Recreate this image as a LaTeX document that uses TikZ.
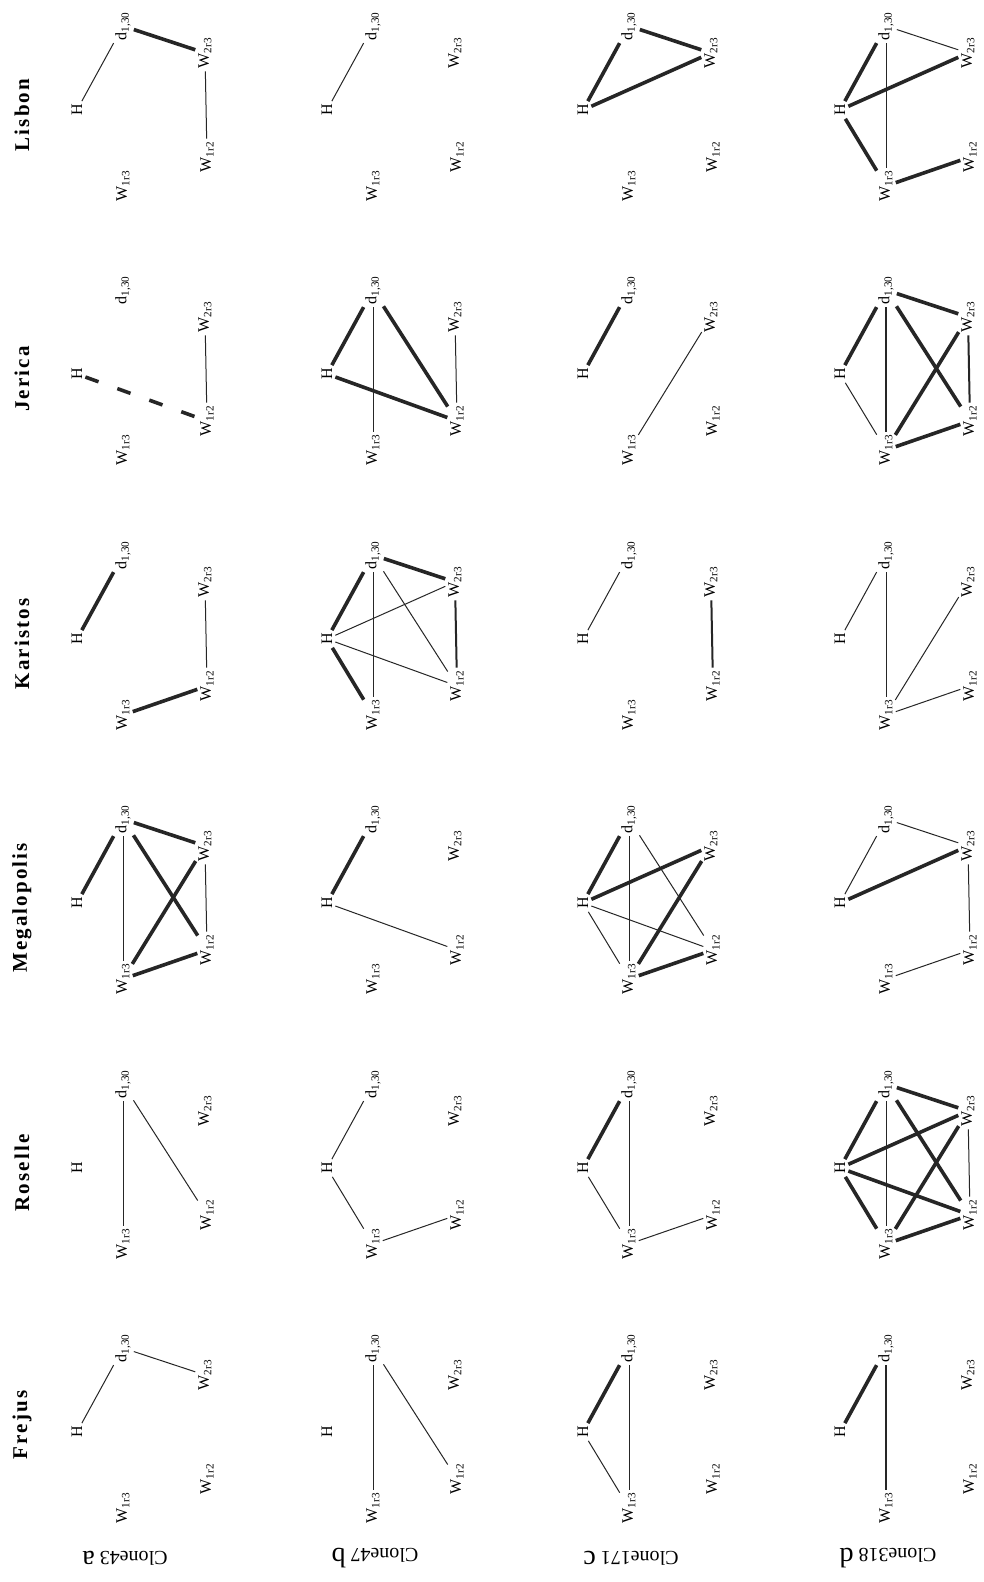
\documentclass[tikz,border=0pt]{standalone}
\usepackage{fontspec}
\setmainfont{Liberation Serif}
\usetikzlibrary{calc}
\tikzset{
  lab/.style={rotate=90,inner sep=2pt,font=\fontsize{16}{16}\selectfont},
  title/.style={rotate=90,inner sep=0pt,font=\fontsize{21}{21}\selectfont\bfseries\addfontfeatures{LetterSpace=10}},
  clonelab/.style={rotate=180,inner sep=0pt,font=\fontsize{20}{20}\selectfont},
  thin/.style={draw=black!85,line width=1pt},
  med/.style={draw=black!85,line width=2pt},
  thk/.style={draw=black!85,line width=3.6pt},
  dsh/.style={draw=black!85,line width=3.6pt,dash pattern=on 14pt off 20pt},
}
\newcommand{\mkpanel}[3]{%
  \begin{scope}[shift={(#2,#3)}]
    \node[lab] (#1H) at (0,0) {H};
    \node[lab] (#1d) at (46,-84) {d\textsubscript{1,30}};
    \node[lab] (#1A) at (128,-57) {W\textsubscript{2r3}};
    \node[lab] (#1B) at (130,47) {W\textsubscript{1r2}};
    \node[lab] (#1C) at (46,76) {W\textsubscript{1r3}};
  \end{scope}}
\newcommand{\ed}[3]{\draw[#1,shorten <=1pt,shorten >=1pt] (#2) -- (#3);}
\begin{document}
\begin{tikzpicture}[x=1pt,y=-1pt]
\useasboundingbox[fill=white] (0,0) rectangle (983,1582);
% titles
\node[title] (tL) at (22,115) {Lisbon};
\node[title] (tJ) at (22,379) {Jerica};
\node[title] (tK) at (22,644) {Karistos};
\node[title] (tM) at (22,908) {Megalopolis};
\node[title] (tR) at (22,1173) {Roselle};
\node[title] (tF) at (22,1425) {Frejus};
% clone labels
\node[clonelab] (c1) at (125,1558) {Clone43 {\fontsize{28}{28}\selectfont a}};
\node[clonelab] (c2) at (375,1558) {Clone47 {\fontsize{28}{28}\selectfont b}};
\node[clonelab] (c3) at (631,1558) {Clone171 {\fontsize{28}{28}\selectfont c}};
\node[clonelab] (c4) at (888,1558) {Clone318 {\fontsize{28}{28}\selectfont d}};
% panels
\foreach \r/\yy in {L/110,J/374,K/639,M/903,R/1168,F/1432}{
  \mkpanel{\r1}{77}{\yy}
  \mkpanel{\r2}{327}{\yy}
  \mkpanel{\r3}{583}{\yy}
  \mkpanel{\r4}{840}{\yy}
}
% Lisbon
\ed{thin}{L1H}{L1d}\ed{thk}{L1d}{L1A}\ed{thin}{L1A}{L1B}
\ed{thin}{L2H}{L2d}
\ed{thk}{L3H}{L3d}\ed{thk}{L3d}{L3A}\ed{thk}{L3H}{L3A}
\ed{thk}{L4H}{L4d}\ed{thk}{L4H}{L4A}\ed{thin}{L4d}{L4C}\ed{thin}{L4d}{L4A}\ed{thk}{L4H}{L4C}\ed{thk}{L4C}{L4B}
% Jerica
\ed{dsh}{J1H}{J1B}\ed{thin}{J1A}{J1B}
\ed{thk}{J2H}{J2d}\ed{thin}{J2d}{J2C}\ed{thk}{J2d}{J2B}\ed{thk}{J2H}{J2B}\ed{thin}{J2A}{J2B}
\ed{thk}{J3H}{J3d}\ed{thin}{J3C}{J3A}
\ed{thk}{J4H}{J4d}\ed{med}{J4d}{J4C}\ed{thk}{J4d}{J4B}\ed{thk}{J4d}{J4A}\ed{thk}{J4A}{J4C}\ed{thk}{J4C}{J4B}\ed{med}{J4A}{J4B}\ed{thin}{J4H}{J4C}
% Karistos
\ed{thk}{K1H}{K1d}\ed{thin}{K1A}{K1B}\ed{thk}{K1C}{K1B}
\ed{thk}{K2H}{K2d}\ed{thk}{K2d}{K2A}\ed{thin}{K2d}{K2C}\ed{thin}{K2d}{K2B}\ed{thin}{K2H}{K2A}\ed{thin}{K2H}{K2B}\ed{thk}{K2H}{K2C}\ed{med}{K2A}{K2B}
\ed{thin}{K3H}{K3d}\ed{med}{K3A}{K3B}
\ed{thin}{K4H}{K4d}\ed{thin}{K4d}{K4C}\ed{thin}{K4C}{K4A}\ed{thin}{K4C}{K4B}
% Megalopolis
\ed{thk}{M1H}{M1d}\ed{thk}{M1d}{M1A}\ed{thin}{M1d}{M1C}\ed{thk}{M1d}{M1B}\ed{thk}{M1C}{M1A}\ed{thin}{M1A}{M1B}\ed{thk}{M1C}{M1B}
\ed{thk}{M2H}{M2d}\ed{thin}{M2H}{M2B}
\ed{thk}{M3H}{M3d}\ed{thin}{M3d}{M3C}\ed{thin}{M3d}{M3B}\ed{thk}{M3H}{M3A}\ed{thk}{M3C}{M3A}\ed{thin}{M3H}{M3B}\ed{thin}{M3H}{M3C}\ed{thk}{M3C}{M3B}
\ed{thin}{M4H}{M4d}\ed{thin}{M4d}{M4A}\ed{thk}{M4H}{M4A}\ed{thin}{M4A}{M4B}\ed{thin}{M4C}{M4B}
% Roselle
\ed{thin}{R1d}{R1C}\ed{thin}{R1d}{R1B}
\ed{thin}{R2H}{R2d}\ed{thin}{R2H}{R2C}\ed{thin}{R2C}{R2B}
\ed{thk}{R3H}{R3d}\ed{thin}{R3d}{R3C}\ed{thin}{R3H}{R3C}\ed{thin}{R3C}{R3B}
\ed{thk}{R4H}{R4d}\ed{thin}{R4d}{R4C}\ed{thk}{R4d}{R4B}\ed{thk}{R4d}{R4A}\ed{thk}{R4H}{R4A}\ed{thk}{R4H}{R4B}\ed{thk}{R4C}{R4A}\ed{thk}{R4H}{R4C}\ed{thk}{R4C}{R4B}\ed{thin}{R4A}{R4B}
% Frejus
\ed{thin}{F1H}{F1d}\ed{thin}{F1d}{F1A}
\ed{thin}{F2d}{F2C}\ed{thin}{F2d}{F2B}
\ed{thk}{F3H}{F3d}\ed{thin}{F3d}{F3C}\ed{thin}{F3H}{F3C}
\ed{thk}{F4H}{F4d}\ed{med}{F4d}{F4C}
\end{tikzpicture}
\end{document}
